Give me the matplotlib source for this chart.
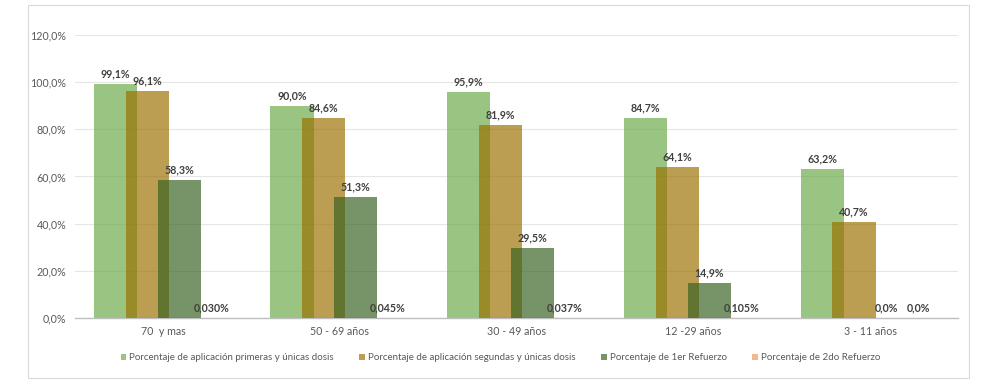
import numpy as np
import matplotlib.pyplot as plt

plt.rcParams['font.family'] = ['Lato', 'DejaVu Sans']

categorias = ['70  y mas', '50 - 69 años', '30 - 49 años', '12 -29 años', '3 - 11 años']
primeras = [99.1, 90.0, 95.9, 84.7, 63.2]
segundas = [96.1, 84.6, 81.9, 64.1, 40.7]
refuerzo1 = [58.3, 51.3, 29.5, 14.9, 0.0]
refuerzo2 = [0.030, 0.045, 0.037, 0.105, 0.0]

etiquetas1 = ['99,1%', '90,0%', '95,9%', '84,7%', '63,2%']
etiquetas2 = ['96,1%', '84,6%', '81,9%', '64,1%', '40,7%']
etiquetas3 = ['58,3%', '51,3%', '29,5%', '14,9%', '0,0%']
etiquetas4 = ['0,030%', '0,045%', '0,037%', '0,105%', '0,0%']

nombres = ['Porcentaje de aplicación primeras y únicas dosis',
           'Porcentaje de aplicación segundas y únicas dosis',
           'Porcentaje de 1er Refuerzo',
           'Porcentaje de 2do Refuerzo']
colores = ['#69A945', '#9B7000', '#376222', '#F1945B']

fig = plt.figure(figsize=(9.85, 3.87), dpi=100)
ax = fig.add_axes([0.076, 0.178, 0.897, 0.732])

x = np.arange(len(categorias))
paso = 0.181
ancho = 0.244
series = [primeras, segundas, refuerzo1, refuerzo2]
etiquetas = [etiquetas1, etiquetas2, etiquetas3, etiquetas4]

for i, (vals, labs) in enumerate(zip(series, etiquetas)):
    pos = x + (i - 1.5) * paso
    ax.bar(pos, vals, width=ancho, color=colores[i], alpha=0.68,
           label=nombres[i], zorder=2 + i)
    for p, v, t in zip(pos, vals, labs):
        ax.text(p, v + 2.0, t, ha='center', va='bottom', fontsize=7.7,
                fontweight='bold', color='#404040', zorder=10)

ax.set_xlim(-0.5, 4.5)
ax.set_ylim(0, 120)
ax.set_yticks(np.arange(0, 121, 20))
ax.set_yticklabels(['%d,0%%' % v for v in range(0, 121, 20)])
ax.set_xticks(x)
ax.set_xticklabels(categorias)
ax.tick_params(axis='both', length=0, labelsize=7.7, colors='#595959')
ax.tick_params(axis='y', pad=6)
ax.tick_params(axis='x', pad=6)
ax.grid(axis='y', color='#E6E6E6', linewidth=0.8, zorder=0)
ax.set_axisbelow(True)
for s in ['top', 'right', 'left']:
    ax.spines[s].set_visible(False)
ax.spines['bottom'].set_color('#BFBFBF')
ax.spines['bottom'].set_linewidth(1.0)

leg = fig.legend(loc='center', bbox_to_anchor=(0.508, 0.075), ncol=4, frameon=False,
                 fontsize=7, handlelength=0.6, handleheight=0.6, handletextpad=0.3,
                 columnspacing=2.6)
for t in leg.get_texts():
    t.set_color('#595959')

borde = plt.Rectangle((0.028, 0.022), 0.956, 0.966, transform=fig.transFigure,
                      fill=False, edgecolor='#D9D9D9', linewidth=0.8)
fig.patches.append(borde)

fig.savefig('out.png', dpi=100)
